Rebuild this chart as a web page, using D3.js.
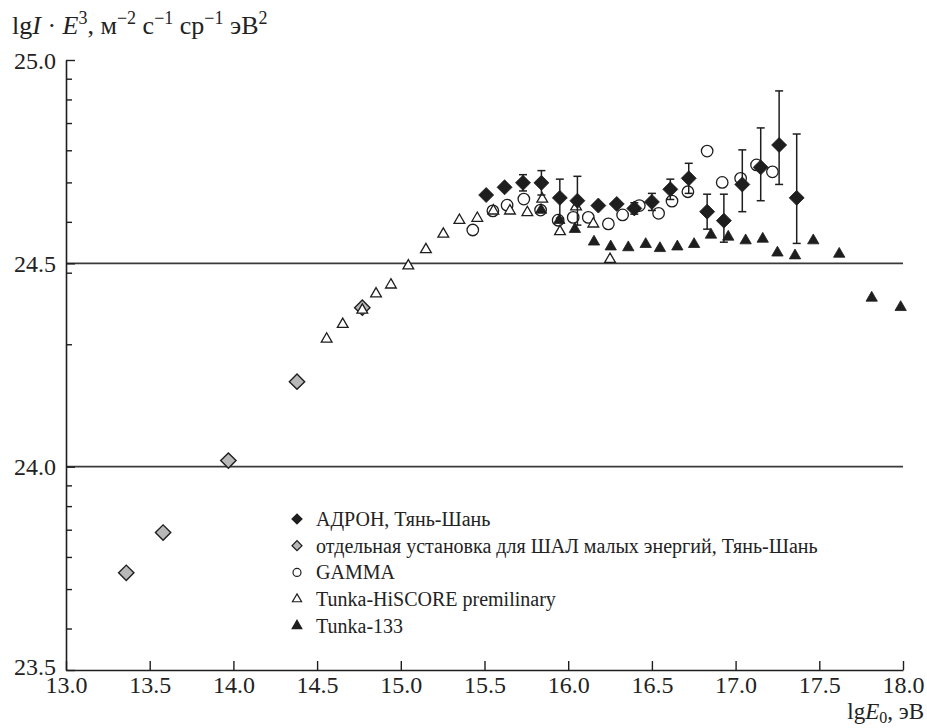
<!DOCTYPE html>
<html><head><meta charset="utf-8">
<script src="https://cdn.jsdelivr.net/npm/d3@7"></script>
<style>
html,body{margin:0;padding:0;background:#fff;}
svg{display:block;}
svg text{font-family:"Liberation Serif","Tinos","Times New Roman","Nimbus Roman","DejaVu Serif",serif !important;}
</style></head>
<body><svg id="c" width="927" height="728"></svg>
<script>
// ---- data ----
const adronX = [15.51,15.62,15.73,15.84,15.95,16.055,16.18,16.29,16.395,16.50,16.61,16.72,16.83,16.93,17.04,17.15,17.26,17.365];
const adronY = [24.668,24.687,24.698,24.698,24.661,24.654,24.642,24.646,24.635,24.651,24.682,24.709,24.627,24.605,24.694,24.736,24.791,24.661];
const adronErrHi = [0,0,0.02,0.03,0.046,0.06,0,0,0.014,0.021,0.025,0.037,0.043,0.065,0.085,0.097,0.133,0.157];
const adronErrLo = [0,0,0.02,0.03,0.05,0.06,0,0,0.014,0.021,0.025,0.037,0.043,0.053,0.067,0.082,0.097,0.112];

const lowX = [13.36,13.58,13.97,14.38,14.77];
const lowY = [23.739,23.838,24.015,24.209,24.391];

const gammaX = [15.43,15.55,15.635,15.735,15.835,15.94,16.03,16.12,16.24,16.325,16.425,16.54,16.62,16.715,16.83,16.92,17.03,17.125,17.22];
const gammaY = [24.582,24.629,24.643,24.658,24.631,24.606,24.613,24.613,24.597,24.619,24.642,24.623,24.653,24.676,24.776,24.699,24.709,24.742,24.725];

const hiscoreX = [14.557,14.653,14.77,14.852,14.941,15.045,15.15,15.254,15.35,15.457,15.553,15.652,15.756,15.845,15.951,16.047,16.15,16.25];
const hiscoreY = [24.314,24.35,24.385,24.425,24.447,24.494,24.534,24.572,24.606,24.611,24.629,24.629,24.625,24.658,24.578,24.639,24.597,24.51];

const tunkaX = [15.838,15.947,16.04,16.154,16.254,16.359,16.463,16.548,16.652,16.752,16.853,16.956,17.06,17.162,17.25,17.355,17.464,17.619,17.813,17.986];
const tunkaY = [24.631,24.606,24.584,24.553,24.541,24.539,24.547,24.537,24.541,24.547,24.57,24.565,24.556,24.56,24.526,24.519,24.556,24.523,24.415,24.392];

const xTicks = [13.0,13.5,14.0,14.5,15.0,15.5,16.0,16.5,17.0,17.5,18.0];
const yTicks = [23.5,24.0,24.5,25.0];
const yMinorTicks = [23.602,23.699,23.778,23.845,23.903,23.954,24.301,24.477,24.602,24.699,24.778,24.845,24.903,24.954];
const gridY = [24.0,24.5];
const legendLabels = ["АДРОН, Тянь-Шань","отдельная установка для ШАЛ малых энергий, Тянь-Шань","GAMMA","Tunka-HiSCORE premilinary","Tunka-133"];

// ---- drawing ----
const FONT = '"Liberation Serif","Tinos","Times New Roman","Nimbus Roman","DejaVu Serif",serif';
const svg = d3.select("#c");
const x = d3.scaleLinear().domain([13,18]).range([66,903]);
const y = d3.scaleLinear().domain([23.5,25]).range([670,60]);
const ink = "#1e1e1e";
const fmt = d3.format(".1f");

// gridlines
svg.append("g").selectAll("line").data(gridY).join("line")
  .attr("x1",x(13)).attr("x2",x(18)).attr("y1",d=>y(d)).attr("y2",d=>y(d))
  .attr("stroke","#3a3a3a").attr("stroke-width",1.6);

// x axis
const gx = svg.append("g").attr("transform",`translate(0,${y(23.5)})`)
  .call(d3.axisBottom(x).tickValues(xTicks).tickFormat(fmt).tickSizeInner(-9).tickSizeOuter(0).tickPadding(7));
// y axis
const gy = svg.append("g").attr("transform",`translate(${x(13)},0)`)
  .call(d3.axisLeft(y).tickValues(yTicks).tickFormat(fmt).tickSizeInner(-9).tickSizeOuter(0).tickPadding(10));
const gyMinor = svg.append("g").attr("transform",`translate(${x(13)},0)`)
  .call(d3.axisLeft(y).tickValues(yMinorTicks).tickFormat("").tickSizeInner(-6).tickSizeOuter(0));
gyMinor.select(".domain").remove();
[gx,gy,gyMinor].forEach(g=>{
  g.attr("font-family",FONT).attr("font-size",24);
  g.selectAll(".domain").attr("stroke",ink).attr("stroke-width",1.6);
  g.selectAll(".tick line").attr("stroke",ink).attr("stroke-width",1.4);
  g.selectAll("text").attr("fill","#222");
});
gx.selectAll(".tick text").attr("dy","0.68em");
gy.selectAll(".tick text").attr("dy",(d)=> d===23.5 ? "0.2em" : "0.34em");

// axis titles
const yt = svg.append("text").attr("x",12).attr("y",34).attr("fill","#222")
  .attr("font-family",FONT).attr("font-size",26);
let acc=0;
[["lg",""],["I","i"],[" · ",""],["E","i"],["3","s"],[", м",""],["−2","s"],[" с",""],["−1","s"],[" ср",""],["−1","s"],[" эВ",""],["2","s"]]
.forEach(([t,k])=>{
  const ts = yt.append("tspan").text(t);
  if(k==="i") ts.attr("font-style","italic");
  const target = k==="s" ? -10 : 0;
  if(k==="s") ts.attr("font-size",18);
  ts.attr("dy", target-acc); acc=target;
});

const xt = svg.append("text").attr("x",924).attr("y",719).attr("text-anchor","end").attr("fill","#222")
  .attr("font-family",FONT).attr("font-size",23);
xt.append("tspan").text("lg");
xt.append("tspan").text("E").attr("font-style","italic");
xt.append("tspan").text("0").attr("dy",4).attr("font-size",16);
xt.append("tspan").text(", эВ").attr("dy",-4);

// symbols
const sq = (s)=>d3.symbol().type(d3.symbolSquare).size(s)();
const tri = (s)=>d3.symbol().type(d3.symbolTriangle).size(s)();
const circ = (s)=>d3.symbol().type(d3.symbolCircle).size(s)();

// GAMMA circles
svg.append("g").selectAll("path").data(gammaX).join("path")
  .attr("d",circ(104)).attr("transform",(d,i)=>`translate(${x(d)},${y(gammaY[i])})`)
  .attr("fill","#fff").attr("stroke",ink).attr("stroke-width",1.3);
// low-energy gray diamonds
svg.append("g").selectAll("path").data(lowX).join("path")
  .attr("d",sq(118)).attr("transform",(d,i)=>`translate(${x(d)},${y(lowY[i])}) rotate(45)`)
  .attr("fill","#b8b8b8").attr("stroke",ink).attr("stroke-width",1.4);
// HiSCORE open triangles
svg.append("g").selectAll("path").data(hiscoreX).join("path")
  .attr("d",tri(50)).attr("transform",(d,i)=>`translate(${x(d)},${y(hiscoreY[i])})`)
  .attr("fill","#fff").attr("stroke",ink).attr("stroke-width",1.3);
// Tunka-133 filled triangles
svg.append("g").selectAll("path").data(tunkaX).join("path")
  .attr("d",tri(56)).attr("transform",(d,i)=>`translate(${x(d)},${y(tunkaY[i])})`)
  .attr("fill",ink).attr("stroke",ink).attr("stroke-width",0.8);
// ADRON error bars
const eb = svg.append("g").attr("stroke",ink).attr("stroke-width",1.5);
adronX.forEach((d,i)=>{
  if(adronErrHi[i]===0 && adronErrLo[i]===0) return;
  const cx=x(d), y1=y(adronY[i]+adronErrHi[i]), y2=y(adronY[i]-adronErrLo[i]);
  eb.append("line").attr("x1",cx).attr("x2",cx).attr("y1",y1).attr("y2",y2);
  eb.append("line").attr("x1",cx-4).attr("x2",cx+4).attr("y1",y1).attr("y2",y1);
  eb.append("line").attr("x1",cx-4).attr("x2",cx+4).attr("y1",y2).attr("y2",y2);
});
// ADRON black diamonds
svg.append("g").selectAll("path").data(adronX).join("path")
  .attr("d",sq(112)).attr("transform",(d,i)=>`translate(${x(d)},${y(adronY[i])}) rotate(45)`)
  .attr("fill",ink).attr("stroke",ink).attr("stroke-width",0.8);

// legend
const lg = svg.append("g").attr("font-family",FONT).attr("font-size",20);
const legendY0 = 519, legendDy = 26.7, legendMX = 297, legendTX = 316;
const legendMarks = [
  {d:sq(50),rot:45,fill:ink},
  {d:sq(50),rot:45,fill:"#b8b8b8"},
  {d:circ(50),rot:0,fill:"#fff"},
  {d:tri(36),rot:0,fill:"#fff"},
  {d:tri(40),rot:0,fill:ink}
];
legendLabels.forEach((t,i)=>{
  const yy = legendY0 + i*legendDy;
  lg.append("path").attr("d",legendMarks[i].d)
    .attr("transform",`translate(${legendMX},${yy}) rotate(${legendMarks[i].rot})`)
    .attr("fill",legendMarks[i].fill).attr("stroke",ink).attr("stroke-width",1.2);
  lg.append("text").attr("x",legendTX).attr("y",yy).attr("dy","0.35em")
    .attr("fill","#222").text(t);
});
</script></body></html>
